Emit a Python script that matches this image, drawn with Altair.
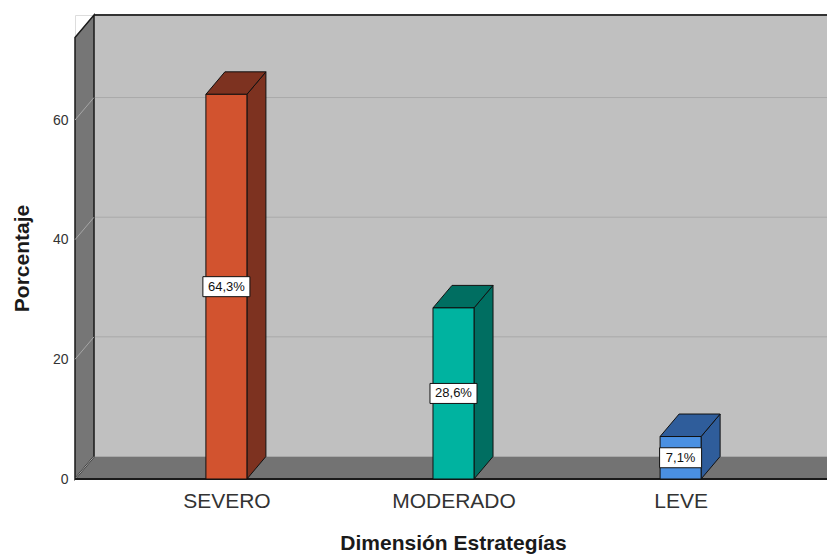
import altair as alt
import pandas as pd

# ---- data ----
categories = ["SEVERO", "MODERADO", "LEVE"]
values = [64.3, 28.6, 7.1]
labels = ["64,3%", "28,6%", "7,1%"]
y_ticks = [0, 20, 40, 60]
front_colors = ["#d2532f", "#00b3a0", "#4a90e2"]
side_colors = ["#7d3220", "#006e61", "#2f5d9b"]

# ---- geometry (style) ----
PX = 5.983          # px per y unit
STEP = 227.0        # px per category
DYU = 22.5 / PX     # 3D depth, y units
DXU = 19.0 / STEP   # 3D depth, x units
HW = 20.5 / STEP    # half bar width
X0, X1 = -2 / 3, 8 / 3
YMAX = 73.8
RANGE_W = 757
W = 752
H = round((YMAX + DYU) * PX)
FONT = "Liberation Sans"

xs = alt.Scale(domain=[X0, X1], range=[0, RANGE_W], nice=False, zero=False)
ys = alt.Scale(domain=[0, YMAX + DYU], nice=False, zero=False)

label_expr = "[" + ",".join(f"'{c}'" for c in categories) + "][datum.value]"
xaxis = alt.Axis(values=list(range(len(categories))), labelExpr=label_expr,
                 labelFontSize=21, labelColor="#333333", labelPadding=11,
                 ticks=False, domain=False, grid=False, labelFlush=False,
                 labelOverlap=False, title="Dimensión Estrategías",
                 titleFontSize=21, titleFontWeight="bold", titleColor="#1a1a1a",
                 titleX=378, titleY=70, titleBaseline="alphabetic",
                 labelFont=FONT, titleFont=FONT)
yaxis = alt.Axis(values=y_ticks, labelFontSize=14, labelColor="#333333",
                 labelPadding=7, ticks=False, domain=False, grid=False,
                 labelFlush=False, labelOverlap=False, title="Porcentaje",
                 titleFontSize=21, titleFontWeight="bold", titleColor="#1a1a1a",
                 titleX=-53, titleY=243, titleAngle=-90, titleAlign="center",
                 titleBaseline="middle", labelFont=FONT, titleFont=FONT)


def X(f="x", **kw):
    return alt.X(f"{f}:Q", scale=xs, axis=xaxis, **kw)


def Y(f="y", **kw):
    return alt.Y(f"{f}:Q", scale=ys, axis=yaxis, **kw)


# ---- walls ----
wall = pd.DataFrame({"x": [X0 + DXU], "x2": [X1 + DXU + 0.3],
                     "y": [DYU], "y2": [YMAX + DYU]})
back_wall = alt.Chart(wall).mark_rect(fill="#c0c0c0").encode(
    x=X(), x2="x2:Q", y=Y(), y2="y2:Q")

bgrid = pd.DataFrame({"y": [t + DYU for t in y_ticks[1:]],
                      "x": [X0 + DXU] * 3, "x2": [X1 + 1] * 3})
back_grid = alt.Chart(bgrid).mark_rule(color="#a9a9a9", strokeWidth=1).encode(
    x=X(), x2="x2:Q", y=Y())

top_edge = pd.DataFrame({"y": [YMAX + DYU], "x": [X0 + DXU], "x2": [X1 + 1]})
back_top = alt.Chart(top_edge).mark_rule(color="#333333", strokeWidth=2).encode(
    x=X(), x2="x2:Q", y=Y())

floor = pd.DataFrame({"y": [0, DYU], "x": [X0, X0 + DXU], "x2": [X1, X1 + DXU]})
floor_area = alt.Chart(floor).mark_area(orient="horizontal", fill="#737373").encode(
    y=Y(), x=X(stack=None), x2="x2:Q")

lwall = pd.DataFrame({"x": [X0, X0 + DXU], "y": [0, DYU], "y2": [YMAX, YMAX + DYU]})
left_wall = alt.Chart(lwall).mark_area(orient="vertical", fill="#767676",
                                       stroke="#1a1a1a", strokeWidth=1.5).encode(
    x=X(), y=Y(stack=None), y2="y2:Q")

lg_rows = []
for t in y_ticks:
    lg_rows.append({"t": t, "x": X0, "y": t})
    lg_rows.append({"t": t, "x": X0 + DXU, "y": t + DYU})
left_grid = alt.Chart(pd.DataFrame(lg_rows)).mark_line(color="#a6a6a6", strokeWidth=1).encode(
    x=X(), y=Y(stack=None), detail="t:N")

front_edge = pd.DataFrame({"y": [0], "x": [X0], "x2": [X1]})
front_line = alt.Chart(front_edge).mark_rule(color="#1a1a1a", strokeWidth=2).encode(
    x=X(), x2="x2:Q", y=Y())

rdiag = pd.DataFrame({"x": [X1, X1 + DXU], "y": [0, DYU]})
right_diag = alt.Chart(rdiag).mark_line(color="#1a1a1a", strokeWidth=1.5).encode(
    x=X(), y=Y(stack=None))

# ---- bars ----
fill_front = alt.Fill("cat:N", scale=alt.Scale(domain=categories, range=front_colors), legend=None)
fill_side = alt.Fill("cat:N", scale=alt.Scale(domain=categories, range=side_colors), legend=None)

front_df = pd.DataFrame({"cat": categories,
                         "x": [i - HW for i in range(3)],
                         "x2": [i + HW for i in range(3)],
                         "y": [0] * 3, "y2": values})
side_rows, top_rows = [], []
for i, (c, v) in enumerate(zip(categories, values)):
    side_rows.append({"cat": c, "x": i + HW, "y": 0, "y2": v})
    side_rows.append({"cat": c, "x": i + HW + DXU, "y": DYU, "y2": v + DYU})
    top_rows.append({"cat": c, "y": v, "x": i - HW, "x2": i + HW})
    top_rows.append({"cat": c, "y": v + DYU, "x": i - HW + DXU, "x2": i + HW + DXU})

bar_side = alt.Chart(pd.DataFrame(side_rows)).mark_area(
    orient="vertical", stroke="#111111", strokeWidth=1).encode(
    x=X(), y=Y(stack=None), y2="y2:Q", fill=fill_side, detail="cat:N")
bar_top = alt.Chart(pd.DataFrame(top_rows)).mark_area(
    orient="horizontal", stroke="#111111", strokeWidth=1).encode(
    y=Y(), x=X(stack=None), x2="x2:Q", fill=fill_side, detail="cat:N")
bar_3d = alt.layer(bar_side, bar_top)
bar_front = alt.Chart(front_df).mark_rect(stroke="#111111", strokeWidth=1).encode(
    x=X(), x2="x2:Q", y=Y(), y2="y2:Q", fill=fill_front)

# ---- value labels ----
BH = 10 / PX
lab_df = pd.DataFrame({"cat": categories, "lab": labels,
                       "xc": list(range(3)), "yc": [v / 2 for v in values]})
box = alt.Chart(lab_df).transform_calculate(
    bw=f"(11 + 2.5 * length(datum.lab)) / {STEP}"
).transform_calculate(
    bx="datum.xc - datum.bw", bx2="datum.xc + datum.bw",
    by=f"datum.yc - {BH}", by2=f"datum.yc + {BH}"
).mark_rect(fill="white", stroke="#111111", strokeWidth=1).encode(
    x=X("bx"), x2="bx2:Q", y=Y("by"), y2="by2:Q")
txt = alt.Chart(lab_df).mark_text(font=FONT, fontSize=13, color="#111111",
                                  baseline="middle", align="center").encode(
    x=X("xc"), y=Y("yc"), text="lab:N")

chart = alt.layer(
    back_wall, back_grid, back_top, floor_area, left_wall, left_grid,
    front_line, right_diag, bar_3d, bar_front, box, txt
).resolve_scale(fill="independent").properties(
    width=W, height=H,
    autosize=alt.AutoSizeParams(type="none"),
    padding={"left": 67, "top": 7, "right": 0, "bottom": 75},
    background="white",
).configure_view(stroke=None).configure(font=FONT)

chart.save("out.html", embed_options={"renderer": "svg", "actions": False})
